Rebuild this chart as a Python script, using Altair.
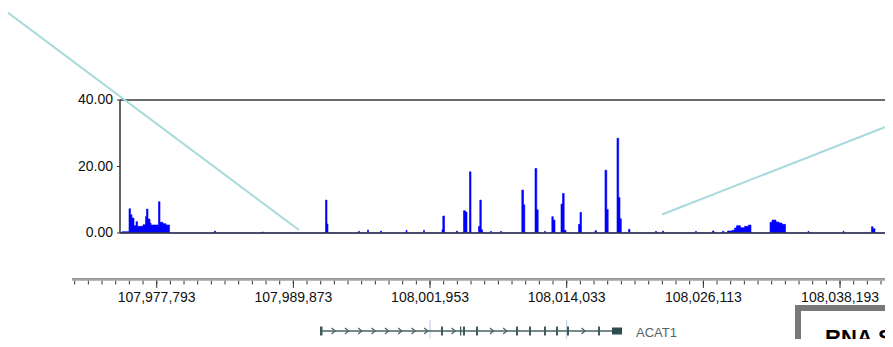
import altair as alt
import pandas as pd

# ---- coverage track (step changes: genomic position, depth) ----
cov_pos = [107974549, 107974726, 107975345, 107975477, 107975610, 107975787, 107975963, 107976096,
           107976582, 107976803, 107976891, 107977024, 107977201, 107977289, 107977952, 107978085,
           107978350, 107978615, 107978924, 107982902, 107982990, 107987145, 107987233, 107992713,
           107992846, 107992934, 107995630, 107995718, 107996426, 107996514, 107997575, 107997663,
           107999829, 107999917, 108001376, 108001464, 108003011, 108003081, 108003232, 108004292,
           108004381, 108004911, 108005088, 108005220, 108005441, 108005574, 108006237, 108006352,
           108006485, 108006590, 108007298, 108007386, 108008182, 108008270, 108010064, 108010215,
           108010329, 108011231, 108011390, 108011514, 108012071, 108012159, 108012716, 108012849,
           108012999, 108013529, 108013662, 108013812, 108013971, 108015076, 108015209, 108015341,
           108016534, 108016667, 108017418, 108017577, 108017701, 108018479, 108018629, 108018744,
           108018859, 108019495, 108019628, 108021882, 108021970, 108022501, 108022589, 108025418,
           108025506, 108026920, 108027053, 108027804, 108027937, 108028246, 108028644, 108028865,
           108029042, 108029395, 108029749, 108030102, 108030323, 108032003, 108032180, 108032533,
           108032799, 108033063, 108033373, 108035361, 108035450, 108038455, 108038544, 108040974,
           108041107, 108041283, 108042433]
cov_val = [0, 0.4, 7.3, 5.5, 4.5, 2.2, 3.4, 2.0,
           2.5, 5.0, 7.2, 4.2, 3.0, 2.4, 9.4, 3.2,
           2.8, 2.4, 0, 0.6, 0, 0.3, 0, 9.9,
           2.7, 0, 0.5, 0, 0.9, 0, 0.6, 0,
           0.8, 0, 0.8, 0, 1.0, 5.1, 0, 0.6,
           0, 6.7, 6.3, 0, 18.4, 0, 2.0, 9.9,
           1.0, 0, 0.5, 0, 0.5, 0, 12.9, 8.5,
           0, 19.4, 7.0, 0, 0.5, 0, 4.9, 3.9,
           0, 8.7, 11.9, 0.8, 0, 2.6, 6.2, 0,
           0.7, 0, 18.9, 7.1, 0, 28.5, 10.7, 4.3,
           0, 1.1, 0, 0.5, 0, 0.6, 0, 0.5,
           0, 0.6, 0, 0.5, 0, 0.6, 0.8, 1.5,
           2.2, 1.6, 2.0, 2.4, 0, 3.2, 3.9, 3.3,
           3.0, 2.6, 0, 0.5, 0, 0.5, 0, 1.9,
           1.3, 0, 0]

y_ticks = [0, 20, 40]
y_domain = [0, 40]

# ---- ruler ----
ruler_domain = [107970306, 108042433]
major_ticks = [107977793, 107989873, 108001953, 108014033, 108026113, 108038193]
minor_step = 1208
minor_ticks = [107970545 + k * minor_step for k in range(60)]
grid_ticks = [108001953, 108014033]

# ---- gene model (ACAT1) ----
gene_name = ["ACAT1"]
gene_start = [107992227]
gene_end = [108018921]
exon_start = [107992227, 108002922, 108004602, 108004867, 108006016, 108009552, 108010701,
              108012026, 108013087, 108014059, 108016800]
exon_end = [107992448, 108003099, 108004717, 108005044, 108006193, 108009728, 108010877,
            108012203, 108013264, 108014236, 108016976]
utr_start = [108018037]
utr_end = [108018921]
chevrons = [107993403, 107994587, 107995763, 107996938, 107998123, 107999298, 108000474,
            108001596, 108004009, 108007404, 108008579, 108015500]
label_pos = [108020158]

FONT = "Liberation Sans"

cov = pd.DataFrame({"pos": cov_pos, "depth": cov_val})

xscale = alt.Scale(domain=ruler_domain, range=[-48, 768], nice=False, zero=False)
yscale = alt.Scale(domain=y_domain, range=[225, 92], nice=False, zero=False)

def X(field):
    return alt.X(field, scale=xscale, axis=None, title=None)

def Y(field):
    return alt.Y(field, scale=yscale, axis=None, title=None)

area = alt.Chart(cov).mark_area(
    interpolate="step-after", color="#0000ff", stroke="#0000ff", strokeWidth=0.6
).encode(x=X("pos:Q"), y=Y("depth:Q"))

# frame of the coverage panel
frame = pd.DataFrame({"v": y_domain})
frame_rules = alt.Chart(frame).mark_rule(color="#3a3a3a", strokeWidth=1.5).encode(
    y=Y("v:Q"), x=alt.value(0), x2=alt.value(768))

# y axis drawn from the y scale
yd = pd.DataFrame({"a": [y_domain[0]], "b": [y_domain[1]]})
y_dom = alt.Chart(yd).mark_rule(color="#333333", strokeWidth=1.5).encode(
    x=alt.value(0), y=Y("a:Q"), y2="b:Q")
yt = pd.DataFrame({"v": y_ticks})
y_tick = alt.Chart(yt).mark_rule(color="#333333", strokeWidth=1).encode(
    x=alt.value(-3), x2=alt.value(0), y=Y("v:Q"))
y_lab = alt.Chart(yt).mark_text(align="right", baseline="middle", font=FONT,
                                fontSize=14, color="#111111").encode(
    x=alt.value(-7), y=Y("v:Q"), text=alt.Text("v:Q", format=".2f"))

# ruler (x axis) drawn from the x scale
rd = pd.DataFrame({"a": [ruler_domain[0]], "b": [ruler_domain[1]]})
ruler_line = alt.Chart(rd).mark_rule(color="#a3a3a3", strokeWidth=2.5).encode(
    x=X("a:Q"), x2="b:Q", y=alt.value(271.6))
ruler_top = alt.Chart(rd).mark_rule(color="#6e6e6e", strokeWidth=1).encode(
    x=X("a:Q"), x2="b:Q", y=alt.value(270.5))
minor = alt.Chart(pd.DataFrame({"p": minor_ticks})).mark_rule(
    color="#333333", strokeWidth=1).encode(
    x=X("p:Q"), y=alt.value(272.8), y2=alt.value(276.5))
mt = pd.DataFrame({"p": major_ticks})
major = alt.Chart(mt).mark_rule(color="#333333", strokeWidth=1).encode(
    x=X("p:Q"), y=alt.value(272.8), y2=alt.value(280))
major_lab = alt.Chart(mt).mark_text(align="center", baseline="top", font=FONT,
                                    fontSize=14, color="#111111").encode(
    x=X("p:Q"), y=alt.value(282.5), text=alt.Text("p:Q", format=",d"))

grid = alt.Chart(pd.DataFrame({"p": grid_ticks})).mark_rule(
    color="#b9c9e2", strokeWidth=1).encode(
    x=X("p:Q"), y=alt.value(312), y2=alt.value(331))

gene_df = pd.DataFrame({"s": gene_start, "e": gene_end, "name": gene_name, "lp": label_pos})
gene_line = alt.Chart(gene_df).mark_rule(color="#4a6262", strokeWidth=1.3).encode(
    x=X("s:Q"), x2="e:Q", y=alt.value(323))
exons = alt.Chart(pd.DataFrame({"s": exon_start, "e": exon_end})).mark_rect(
    color="#3f5c5c").encode(
    x=X("s:Q"), x2="e:Q", y=alt.value(318.5), y2=alt.value(327.5))
utr = alt.Chart(pd.DataFrame({"s": utr_start, "e": utr_end})).mark_rect(
    color="#2f4d4d").encode(
    x=X("s:Q"), x2="e:Q", y=alt.value(319.5), y2=alt.value(326.5))
chev = alt.Chart(pd.DataFrame({"p": chevrons})).mark_point(
    shape="M -0.6 -1 L 0.6 0 L -0.6 1", filled=False, color="#4a6262",
    strokeWidth=1.2, size=36, opacity=1).encode(
    x=X("p:Q"), y=alt.value(323))
gene_label = alt.Chart(gene_df).mark_text(
    align="left", baseline="middle", font=FONT, fontSize=13, color="#556565").encode(
    x=X("lp:Q"), y=alt.value(324.5), text="name:N")

# zoom connector lines (decoration)
conn = pd.DataFrame({"id": [1]})
line1 = alt.Chart(conn).mark_rule(color="#a9d9dc", strokeWidth=2).encode(
    x=alt.value(-113), y=alt.value(4), x2=alt.value(179), y2=alt.value(222))
line2 = alt.Chart(conn).mark_rule(color="#a9d9dc", strokeWidth=2).encode(
    x=alt.value(542), y=alt.value(206.5), x2=alt.value(773), y2=alt.value(116))

# legend box (partially out of frame in the reference)
box = alt.Chart(conn).mark_rect(fill="white", stroke="#787878", strokeWidth=6).encode(
    x=alt.value(678), x2=alt.value(800), y=alt.value(300), y2=alt.value(380))
box_text = alt.Chart(pd.DataFrame({"t": ["RNA Seq"]})).mark_text(
    align="left", baseline="alphabetic", font=FONT, fontSize=22,
    fontWeight="bold", color="#000000").encode(
    x=alt.value(705), y=alt.value(337), text="t:N")

chart = alt.layer(
    area, frame_rules, y_dom, y_tick, y_lab,
    ruler_top, ruler_line, minor, major, major_lab,
    grid, gene_line, exons, utr, chev, gene_label,
    line1, line2, box, box_text
).properties(
    width=765, height=271,
    background="white",
    autosize=alt.AutoSizeParams(type="none"),
    padding={"left": 112, "top": 0, "right": 0, "bottom": 60},
).configure_view(stroke=None)

chart.save("out.html", embed_options={"renderer": "svg", "actions": False})
